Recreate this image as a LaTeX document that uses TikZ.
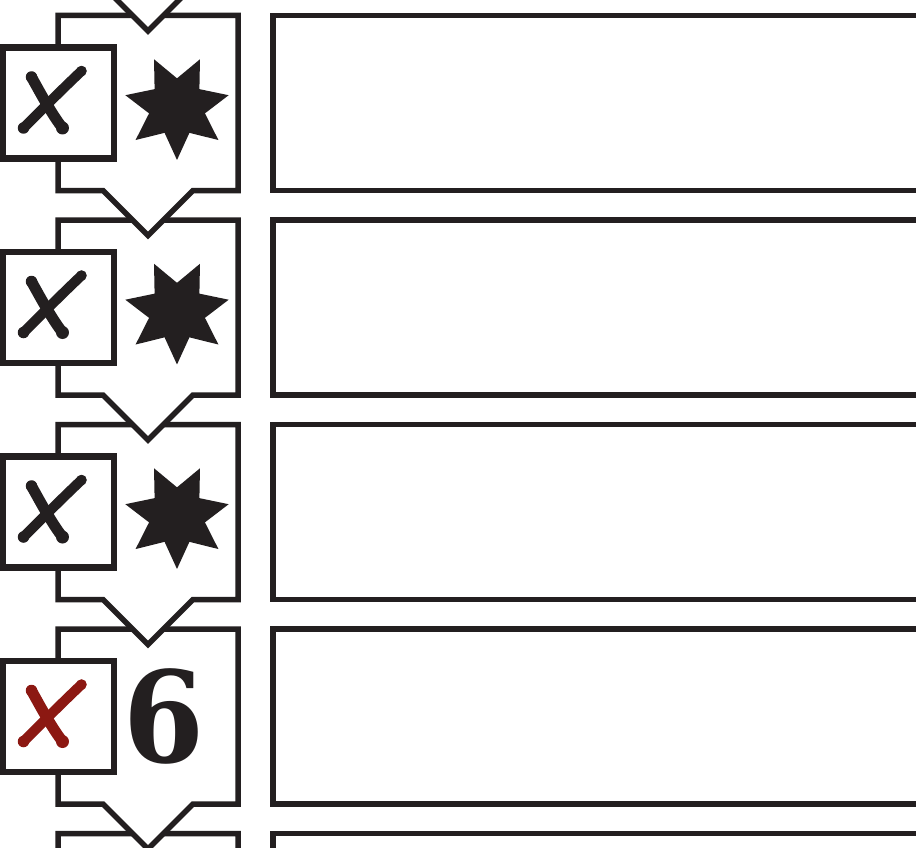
\documentclass[tikz,border=0pt]{standalone}
\usepackage{fontspec}
\newfontfamily\digitfont{DejaVu Serif}
\usetikzlibrary{shapes.geometric}
\definecolor{ink}{RGB}{35,31,32}
\definecolor{markred}{RGB}{140,24,18}

\begin{document}
\begin{tikzpicture}[
  x=0.02cm, y=-0.02cm,
  panel/.style={draw=ink, fill=white, line width=0.11cm, line join=miter},
  slot/.style={draw=ink, line width=0.11cm},
  markbox/.style={draw=ink, fill=white, line width=0.13cm,
                  minimum size=2.22cm, inner sep=0pt, outer sep=0pt},
  badge/.style={star, star points=7, star point ratio=1.85,
                shape border rotate=180, fill=ink,
                minimum size=2.12cm, inner sep=0pt},
  digit/.style={text=ink, inner sep=0pt, xscale=0.92,
                font=\digitfont\bfseries\fontsize{72}{72}\selectfont},
  pics/cross/.style={code={
    \draw[line width=0.22cm, line cap=round]
      (-27,-26) .. controls (-16,-6) and (-6,12) .. (4,25);
    \draw[line width=0.2cm, line cap=round]
      (23,-32) .. controls (4,-14) and (-16,6) .. (-35,25);
    \fill (-27,-26) circle (0.115cm) (4,25) circle (0.13cm)
          (23,-32) circle (0.105cm) (-35,25) circle (0.115cm);
  }}
]
  \useasboundingbox (0,0) rectangle (916,848);
  \clip (0,0) rectangle (916,848);

  % Panels, from the bottom up so each point hides the next top edge
  \foreach \i in {5,4,...,0}{
    \pgfmathsetmacro{\t}{15.5+(\i-1)*204.5}
    \draw[panel] (58,\t) -- (238,\t) -- (238,\t+175) -- (193,\t+175)
      -- (148,\t+220) -- (103,\t+175) -- (58,\t+175) -- cycle;
    \draw[slot] (273,\t) rectangle (940,\t+175);
  }

  % Rows with a star
  \foreach \i in {1,2,3}{
    \pgfmathsetmacro{\t}{15.5+(\i-1)*204.5}
    \node[markbox] (box\i) at (58.5,\t+87.5) {};
    \pic[ink] at (box\i.center) {cross};
    \node[badge] (star\i) at (177,\t+91.5) {};
  }

  % Row with the number
  \node[markbox] (box4) at (58.5,716.5) {};
  \pic[markred] at (box4.center) {cross};
  \node[digit] (num4) at (164,716) {6};

\end{tikzpicture}
\end{document}
